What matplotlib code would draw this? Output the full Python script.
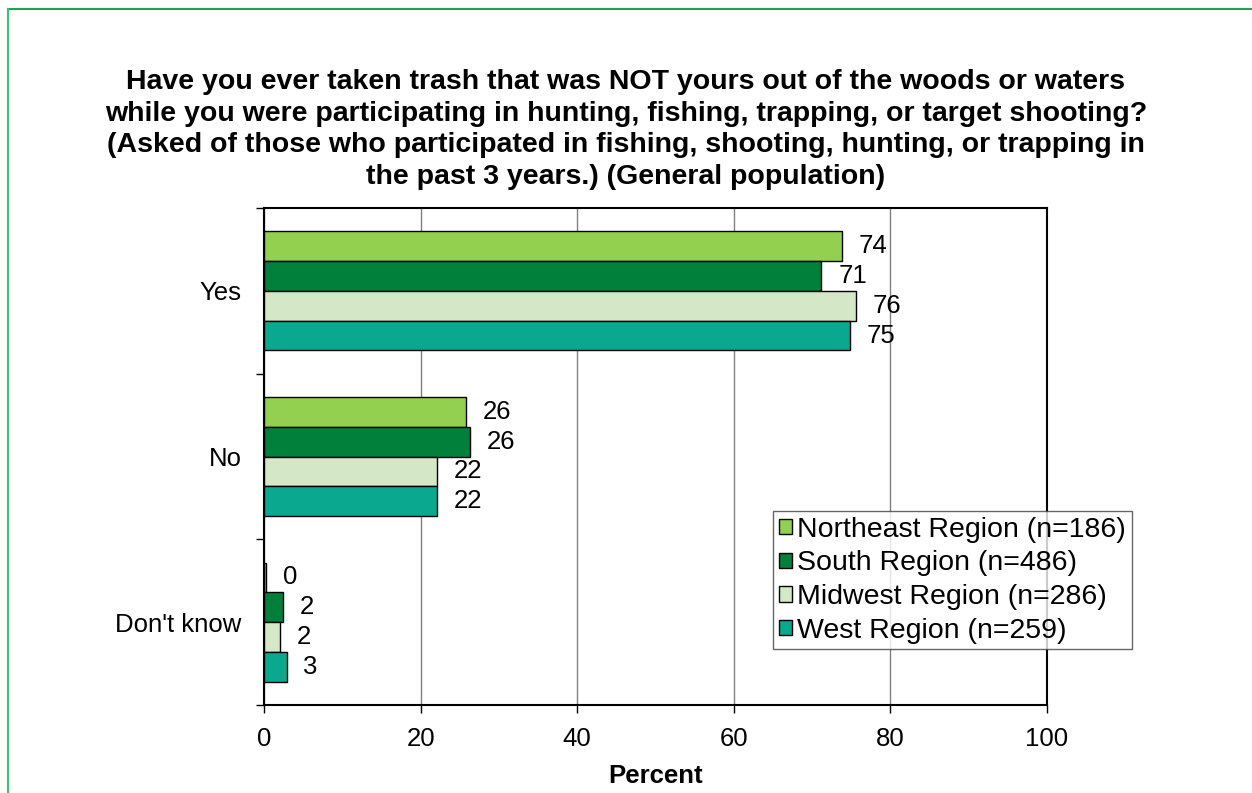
import matplotlib
matplotlib.use("Agg")
import matplotlib.pyplot as plt
import numpy as np
from matplotlib.lines import Line2D

plt.rcParams['font.family'] = ['Liberation Sans', 'DejaVu Sans']

categories = ["Yes", "No", "Don't know"]
series_names = ["Northeast Region (n=186)", "South Region (n=486)",
                "Midwest Region (n=286)", "West Region (n=259)"]
northeast = [73.8, 25.8, 0.3]
south = [71.2, 26.3, 2.4]
midwest = [75.6, 22.1, 2.1]
west = [74.8, 22.1, 2.9]
labels_ne = ["74", "26", "0"]
labels_so = ["71", "26", "2"]
labels_mw = ["76", "22", "2"]
labels_we = ["75", "22", "3"]
xticks = [0, 20, 40, 60, 80, 100]

colors = ["#94D050", "#00803B", "#D4E8C7", "#0AA88F"]
title = ("Have you ever taken trash that was NOT yours out of the woods or waters\n"
         "while you were participating in hunting, fishing, trapping, or target shooting?\n"
         "(Asked of those who participated in fishing, shooting, hunting, or trapping in\n"
         "the past 3 years.) (General population)")

fig = plt.figure(figsize=(12.52, 7.93), dpi=100)
ax = fig.add_axes([264/1252, 1-705/793, (1047-264)/1252, (705-208)/793])

all_vals = [northeast, south, midwest, west]
all_labels = [labels_ne, labels_so, labels_mw, labels_we]
y = np.arange(len(categories))
h = 0.18
offsets = [-1.5*h, -0.5*h, 0.5*h, 1.5*h]
fs = 18.5

for vals, labs, col, off, name in zip(all_vals, all_labels, colors, offsets, series_names):
    bars = ax.barh(y + off, vals, height=h, color=col, edgecolor='black',
                   linewidth=1.0, label=name, zorder=3)
    for b, v, lab in zip(bars, vals, labs):
        ax.annotate(lab, (v, b.get_y() + b.get_height()/2), xytext=(12, 0),
                    textcoords='offset points', ha='left', va='center',
                    fontsize=fs, zorder=4)

ax.set_xlim(0, 100)
ax.set_ylim(2.5, -0.5)
ax.set_xticks(xticks)
ax.set_xticklabels([str(t) for t in xticks], fontsize=fs)
ax.set_yticks(y)
ax.set_yticklabels(categories, fontsize=fs)
ax.tick_params(axis='y', which='major', length=0, pad=16)
ax.set_yticks([-0.5, 0.5, 1.5, 2.5], minor=True)
ax.tick_params(axis='y', which='minor', length=6, width=1, direction='out', color='black')
ax.tick_params(axis='x', which='major', length=6, width=1, direction='out', pad=10)
ax.xaxis.grid(True, color='#808080', linewidth=1, zorder=0)
ax.set_axisbelow(True)
for s in ax.spines.values():
    s.set_color('black')
    s.set_linewidth(1.5)
ax.set_xlabel("Percent", fontsize=fs, fontweight='bold', labelpad=9)

leg = ax.legend(loc='upper left', bbox_to_anchor=(773/1252, 1-511/793),
                bbox_transform=fig.transFigure, fontsize=20.5, frameon=True,
                fancybox=False, shadow=False, handlelength=0.45, handleheight=0.45,
                handletextpad=0.2, labelspacing=0.27, borderpad=0.2,
                borderaxespad=0)
leg.get_frame().set_edgecolor('#404040')
leg.get_frame().set_linewidth(1.0)
leg.set_zorder(5)

fig.text(0.5, 1-69/793, title, ha='center', va='top', fontsize=20.5,
         fontweight='bold', linespacing=1.28)

# page border (top and left)
fig.add_artist(Line2D([8/1252, 1], [1-9/793, 1-9/793], transform=fig.transFigure,
                      color='#2a9d5a', linewidth=1.5))
fig.add_artist(Line2D([8/1252, 8/1252], [0, 1-9/793], transform=fig.transFigure,
                      color='#3fbf7a', linewidth=1.5))

fig.savefig("out.png", dpi=100)
